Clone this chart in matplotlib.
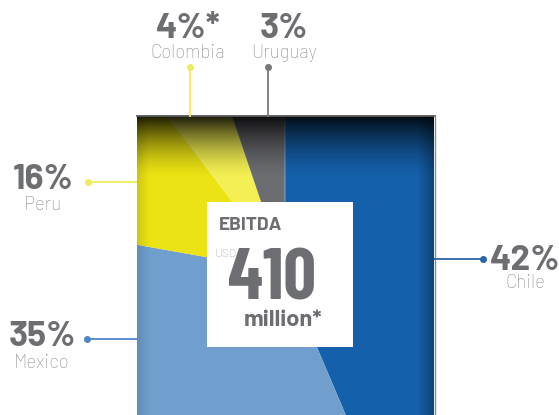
import numpy as np
import matplotlib
matplotlib.use('Agg')
import matplotlib.pyplot as plt
from matplotlib.patches import Rectangle

# ------------------------------------------------------------
# Data (slice order: clockwise from 12 o'clock)
# ------------------------------------------------------------
countries = ['Chile', 'Mexico', 'Peru', 'Colombia', 'Uruguay']
pct_labels = ['42%', '35%', '16%', '4%*', '3%']
# slice sizes as drawn in the reference (angles)
slice_share = [43.6, 34.2, 11.9, 5.1, 5.2]
slice_colors = ['#1560ab', '#709fcd', '#ebe313', '#f4ef52', '#6c6d71']
line_colors = ['#2a64a8', '#4f86c6', '#f1ea5e', '#f1ea5e', '#77787b']

ebitda_value = '410'
ebitda_unit = 'million*'

# ------------------------------------------------------------
# Layout (pixel units, measured from top-left of a 559x415 canvas)
# ------------------------------------------------------------
W, H = 559, 415
def py(y):
    return H - y

sq_x0, sq_x1, sq_top = 137, 434, 117
pie_cx, pie_cy = 284.5, 271

FONT = ['Barlow', 'Roboto', 'DejaVu Sans']
FONT_COND = ['Barlow Condensed', 'Roboto Condensed', 'Roboto', 'DejaVu Sans']
DARK = '#6d6e71'
LIGHT = '#8c8d90'

fig = plt.figure(figsize=(W / 100, H / 100), dpi=100)
ax = fig.add_axes([0, 0, 1, 1])

# --- pie, clipped to the square panel ---
wedges, _ = ax.pie(slice_share, colors=slice_colors, startangle=90,
                   counterclock=False, center=(pie_cx, py(pie_cy)), radius=240,
                   wedgeprops=dict(linewidth=0))
clip = Rectangle((sq_x0, 0), sq_x1 - sq_x0, py(sq_top), transform=ax.transData)
for w in wedges:
    w.set_clip_on(True)   # pie turns clipping off by default
    w.set_clip_path(clip)

# --- dark shading at the top / right edges ---
h_px, w_px = H - sq_top, sq_x1 - sq_x0
d_top = np.arange(h_px)[:, None]
d_right = (w_px - 1 - np.arange(w_px))[None, :]
d_left = np.arange(w_px)[None, :]
a_top = 0.88 * np.clip(1 - d_top / 62, 0, 1) ** 1.6
a_right = 0.30 * np.clip(1 - d_right / 16, 0, 1)
a_left = 0.12 * np.clip(1 - d_left / 12, 0, 1)
alpha = 1 - (1 - a_top) * (1 - a_right) * (1 - a_left)
shade = np.zeros((h_px, w_px, 4))
shade[..., 3] = alpha
ax.imshow(shade, extent=(sq_x0, sq_x1, 0, py(sq_top)), origin='upper',
          zorder=3, interpolation='bilinear', aspect='auto')

# thin light line on the Uruguay / Chile boundary
ax.plot([pie_cx, pie_cx], [py(sq_top), py(pie_cy)], color='#3f7cc0', lw=0.8, zorder=2)

# --- panel border ---
ax.plot([sq_x0, sq_x1 + 0.5], [py(sq_top - 0.5)] * 2, color='#58595b', lw=1.3, zorder=4)
ax.plot([sq_x1 + 0.5] * 2, [py(sq_top - 0.5), 0], color='#8a8c90', lw=1.0, zorder=4)

# --- centre box ---
ax.add_patch(Rectangle((207, py(347)), 146, 145, facecolor='white',
                       edgecolor='none', zorder=5))
ax.text(219, py(230), 'EBITDA', fontsize=13.7, fontweight='bold', color=DARK,
        family=FONT, ha='left', va='baseline', zorder=6)
ax.text(215, py(256.7), 'USD', fontsize=8.6, fontweight='light', color='#9d9ea1',
        family=FONT, ha='left', va='baseline', zorder=6)
ax.text(272, py(300), ebitda_value, fontsize=52, fontweight='bold', color=DARK,
        family=FONT_COND, ha='center', va='baseline', zorder=6)
ax.text(283, py(325.7), ebitda_unit, fontsize=17, fontweight='bold', color=DARK,
        family=FONT, ha='center', va='baseline', zorder=6)

# --- labels and leader lines ---
# (text centre x, pct baseline, name baseline, leader start, leader end)
label_pos = {
    'Chile':    (525, 270.5, 288.5, (434, 259), (483, 259)),
    'Mexico':   (42, 345.5, 368.3, (137, 339), (87, 339)),
    'Peru':     (43, 189.3, 210, (137, 182), (88, 182)),
    'Colombia': (188, 38, 58.3, (190, 117), (190, 67)),
    'Uruguay':  (284, 38, 58.3, (268, 117), (268, 67)),
}
for name, pct, lc in zip(countries, pct_labels, line_colors):
    tx, yb1, yb2, p0, p1 = label_pos[name]
    ax.plot([p0[0], p1[0]], [py(p0[1]), py(p1[1])], color=lc, lw=1.3, zorder=4,
            solid_capstyle='butt')
    ax.plot(p1[0], py(p1[1]), 'o', color=lc, markersize=4, zorder=4)
    ax.text(tx, py(yb1), pct, fontsize=25.5, fontweight='bold', color=DARK,
            family=FONT, ha='center', va='baseline')
    ax.text(tx, py(yb2), name, fontsize=13.4, fontweight='light', color=LIGHT,
            family=FONT, ha='center', va='baseline')

ax.set_xlim(0, W)
ax.set_ylim(0, H)
ax.set_aspect('auto')
ax.axis('off')

fig.savefig('out.png', dpi=100)
